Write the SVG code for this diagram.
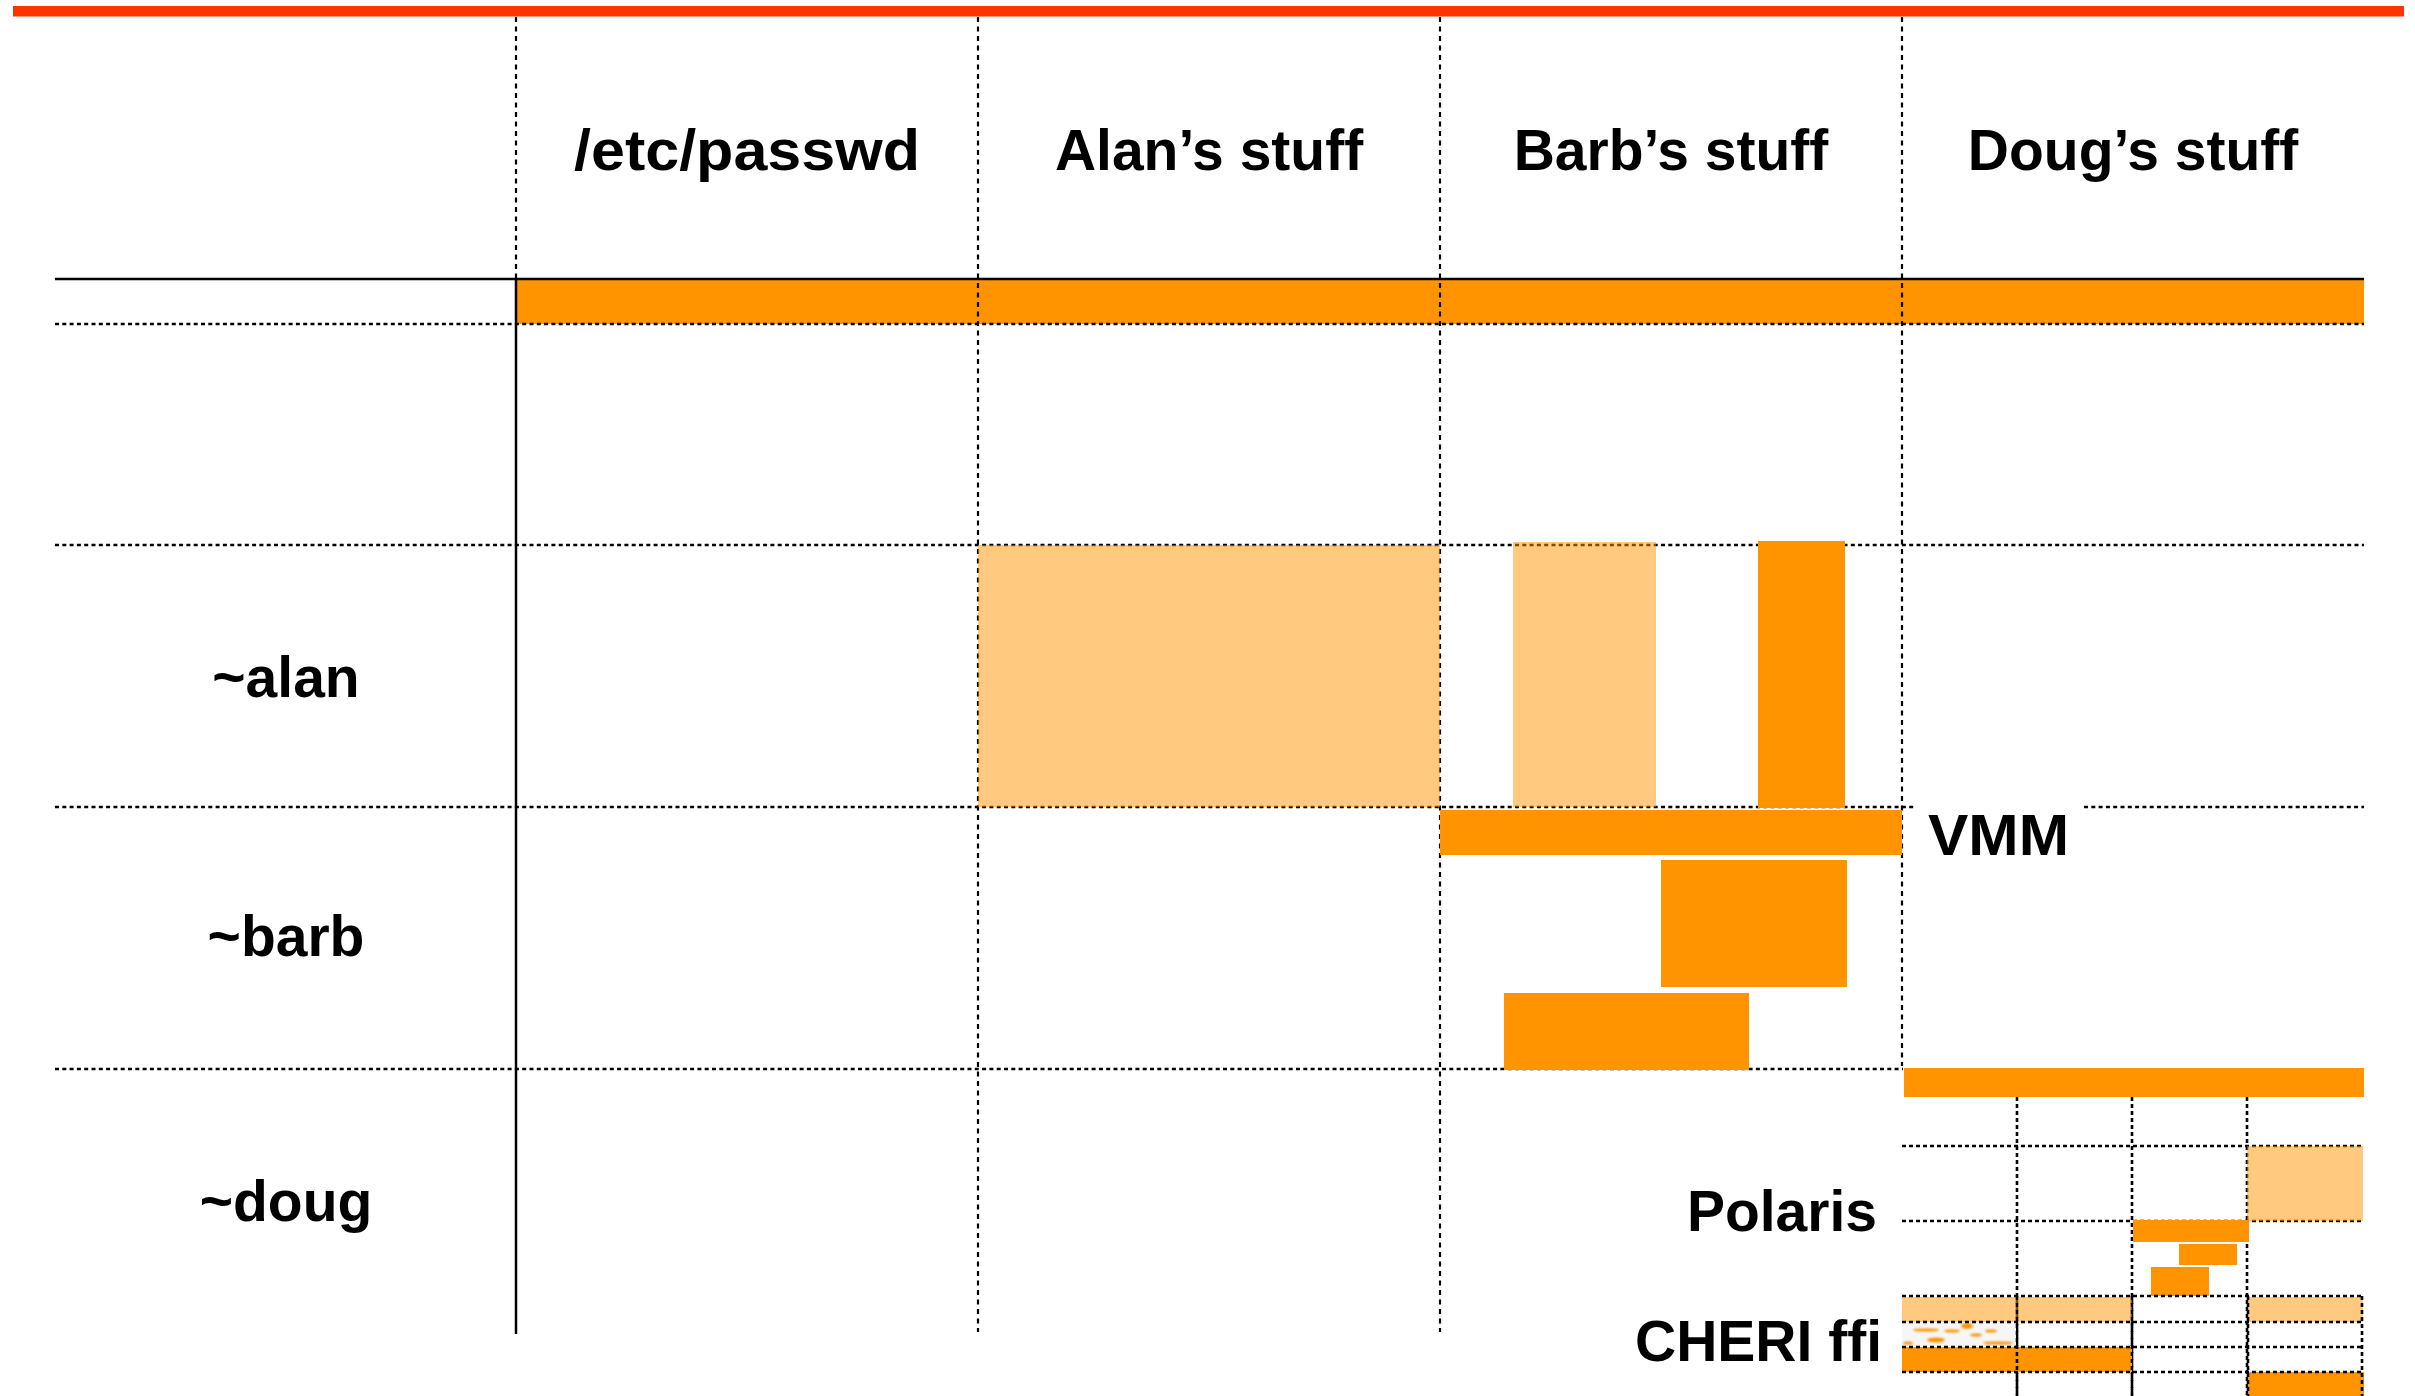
<svg xmlns="http://www.w3.org/2000/svg" width="2415" height="1396" viewBox="0 0 2415 1396">
  <defs>
    <style>
      .lbl { font-family: "Liberation Sans", Arial, Helvetica, sans-serif; font-weight: bold; font-size: 57px; fill: #000; }
      .mid { text-anchor: middle; }
      .end { text-anchor: end; }
      .hline { stroke: #000; stroke-width: 2.3; stroke-dasharray: 4 3.3; fill: none; }
      .vline { stroke: #000; stroke-width: 2.2; stroke-dasharray: 5 4.5; fill: none; }
      .solid { stroke: #000; stroke-width: 2.5; fill: none; }
      .subline { stroke: #000; stroke-width: 2.6; stroke-dasharray: 4 3; fill: none; }
      .dark { fill: #FF9300; }
      .light { fill: #FF9300; fill-opacity: 0.5; }
    </style>
    <filter id="smear" x="-20%" y="-50%" width="140%" height="200%">
      <feGaussianBlur stdDeviation="1.2"/>
    </filter>
  </defs>

  <rect width="2415" height="1396" fill="#fff"/>

  <!-- title rule -->
  <rect id="title-rule" x="13" y="6" width="2391" height="10.5" fill="#FF3300"/>

  <!-- header band spanning all resource columns -->
  <rect id="header-band" class="dark" x="517" y="280" width="1847" height="44"/>

  <!-- grid lines -->
  <g id="connectors">
    <line class="solid" x1="55" y1="279" x2="2364" y2="279"/>
    <line class="solid" x1="516" y1="279" x2="516" y2="1334"/>
    <line class="vline" x1="516" y1="17" x2="516" y2="279"/>
    <line class="vline" x1="978" y1="17" x2="978" y2="1332"/>
    <line class="vline" x1="1440" y1="17" x2="1440" y2="1332"/>
    <line class="vline" x1="1902" y1="17" x2="1902" y2="1066"/>
    <line class="hline" x1="55" y1="324" x2="2364" y2="324"/>
    <line class="hline" x1="55" y1="545" x2="2364" y2="545"/>
    <line class="hline" x1="55" y1="807" x2="1915" y2="807"/>
    <line class="hline" x1="2084" y1="807" x2="2364" y2="807"/>
    <line class="hline" x1="55" y1="1069" x2="1903" y2="1069"/>

    <!-- nested grid inside Doug's column -->
    <line class="subline" x1="2017" y1="1097" x2="2017" y2="1396"/>
    <line class="subline" x1="2132" y1="1097" x2="2132" y2="1396"/>
    <line class="subline" x1="2247" y1="1097" x2="2247" y2="1396"/>
    <line class="subline" x1="1902" y1="1146" x2="2362" y2="1146"/>
    <line class="subline" x1="1902" y1="1221" x2="2362" y2="1221"/>
  </g>

  <!-- column headers -->
  <g id="col-passwd"><text class="lbl mid" x="747" y="170" textLength="346" lengthAdjust="spacingAndGlyphs">/etc/passwd</text></g>
  <g id="col-alan"><text class="lbl mid" x="1209" y="170">Alan’s stuff</text></g>
  <g id="col-barb"><text class="lbl mid" x="1671" y="170">Barb’s stuff</text></g>
  <g id="col-doug"><text class="lbl mid" x="2133" y="170">Doug’s stuff</text></g>

  <!-- row labels -->
  <g id="row-alan"><text class="lbl mid" x="286" y="697">~alan</text></g>
  <g id="row-barb"><text class="lbl mid" x="286" y="956">~barb</text></g>
  <g id="row-doug"><text class="lbl mid" x="286" y="1221">~doug</text></g>

  <!-- ~alan row -->
  <g id="alan-own"><rect class="light" x="978" y="545" width="462" height="262"/></g>
  <g id="alan-barb-read"><rect class="light" x="1513" y="542" width="143" height="265"/></g>
  <g id="alan-barb-write"><rect class="dark" x="1758" y="541" width="87" height="267"/></g>

  <!-- ~barb row -->
  <g id="vmm">
    <rect class="dark" x="1440" y="810" width="462" height="45"/>
    <text class="lbl" x="1928" y="855" textLength="141" lengthAdjust="spacingAndGlyphs">VMM</text>
  </g>
  <g id="barb-guest-a"><rect class="dark" x="1661" y="860" width="186" height="127"/></g>
  <g id="barb-guest-b"><rect class="dark" x="1504" y="993" width="245" height="77"/></g>

  <!-- ~doug row -->
  <g id="doug-bar"><rect class="dark" x="1904" y="1068" width="460" height="29"/></g>

  <g id="polaris">
    <text class="lbl end" x="1877" y="1231">Polaris</text>
    <rect class="light" x="2247" y="1146" width="116" height="75"/>
    <rect class="dark" x="2133" y="1220" width="116" height="22"/>
    <rect class="dark" x="2179" y="1244" width="58" height="21"/>
    <rect class="dark" x="2151" y="1267" width="58" height="29"/>
  </g>

  <g id="cheri-ffi">
    <text class="lbl end" x="1882" y="1361">CHERI ffi</text>
    <rect class="light" x="1902" y="1297" width="230" height="25"/>
    <rect class="light" x="2248" y="1297" width="115" height="25"/>
    <rect x="1902" y="1323" width="114" height="23" fill="#f6f6f6"/>
    <g fill="#FF9300" filter="url(#smear)">
      <ellipse cx="1967" cy="1326" rx="6" ry="3"/>
      <ellipse cx="1926" cy="1330" rx="13" ry="1.6"/>
      <ellipse cx="1952" cy="1331" rx="8" ry="1.6"/>
      <ellipse cx="1991" cy="1331" rx="6" ry="1.6"/>
      <ellipse cx="1976" cy="1335" rx="6" ry="1.6"/>
      <ellipse cx="1936" cy="1340" rx="9" ry="2.5"/>
      <ellipse cx="1908" cy="1343" rx="5" ry="1.6"/>
      <ellipse cx="1998" cy="1343" rx="15" ry="1.6"/>
    </g>
    <rect class="dark" x="1902" y="1347" width="230" height="25"/>
    <rect class="dark" x="2248" y="1372" width="116" height="24"/>
  </g>

  <!-- nested grid lines drawn over the lower bands -->
  <g id="connectors-lower">
    <line class="subline" x1="1902" y1="1296" x2="2362" y2="1296"/>
    <line class="subline" x1="1902" y1="1322" x2="2362" y2="1322"/>
    <line class="subline" x1="1902" y1="1347" x2="2362" y2="1347"/>
    <line class="subline" x1="1902" y1="1372" x2="2362" y2="1372"/>
    <line class="subline" x1="2017" y1="1296" x2="2017" y2="1396"/>
    <line class="subline" x1="2132" y1="1296" x2="2132" y2="1396"/>
    <line class="subline" x1="2248" y1="1296" x2="2248" y2="1396"/>
    <line class="subline" x1="2362" y1="1296" x2="2362" y2="1396"/>
  </g>
</svg>
